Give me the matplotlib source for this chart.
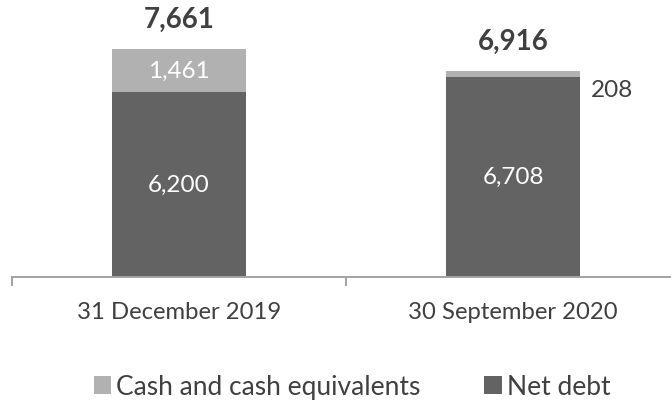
import matplotlib
matplotlib.use("Agg")
import matplotlib.pyplot as plt
from matplotlib.patches import Patch
import numpy as np

categories = ["31 December 2019", "30 September 2020"]
net_debt = [6200, 6708]
cash = [1461, 208]
series_names = ["Cash and cash equivalents", "Net debt"]

DARK = "#636363"
LIGHT = "#b1b1b1"
TEXT = "#404040"
AXIS = "#a3a3a3"

plt.rcParams["font.family"] = ["Lato", "DejaVu Sans"]

W, H = 671, 402
fig = plt.figure(figsize=(W / 100, H / 100), dpi=100)
ax = fig.add_axes([12 / W, 124.5 / H, 668 / W, 277.5 / H])

x = np.arange(len(categories))
bw = 0.4
ax.bar(x, net_debt, bw, color=DARK, zorder=2)
ax.bar(x, cash, bw, bottom=net_debt, color=LIGHT, zorder=2)

ax.set_xlim(-0.5, 1.5)
ax.set_ylim(0, 9330)

for s in ["top", "right", "left"]:
    ax.spines[s].set_visible(False)
ax.spines["bottom"].set_color(AXIS)
ax.spines["bottom"].set_linewidth(1.4)
ax.set_yticks([])

ax.set_xticks(x)
ax.set_xticklabels(categories, fontsize=17.2, color=TEXT)
ax.tick_params(axis="x", which="major", length=0, pad=18)
ax.set_xticks([-0.5, 0.5, 1.5], minor=True)
ax.tick_params(axis="x", which="minor", length=6.5, width=1.4, color=AXIS, direction="out")

# values inside the segments
for i in range(len(categories)):
    ax.text(x[i], net_debt[i] / 2, f"{net_debt[i]:,}", ha="center", va="center",
            fontsize=17.5, color="white", zorder=3)

ax.text(x[0], net_debt[0] + cash[0] / 2, f"{cash[0]:,}", ha="center", va="center",
        fontsize=17.5, color="white", zorder=3)
# thin segment labelled beside the bar
ax.annotate(f"{cash[1]:,}", xy=(x[1] + bw / 2, net_debt[1] + cash[1] / 2),
            xytext=(8, -11.5), textcoords="offset points", ha="left", va="center",
            fontsize=17.5, color=TEXT)

# totals above the bars
for i in range(len(categories)):
    total = net_debt[i] + cash[i]
    ax.annotate(f"{total:,}", xy=(x[i], total), xytext=(0, 21.5), textcoords="offset points",
                ha="center", va="center", fontsize=20, fontweight="bold", color=TEXT)

handles = [Patch(facecolor=LIGHT, label=series_names[0]),
           Patch(facecolor=DARK, label=series_names[1])]
fig.legend(handles=handles, loc="center", bbox_to_anchor=(352 / W, 14 / H),
           ncol=2, frameon=False, fontsize=19, labelcolor=TEXT,
           handlelength=0.68, handleheight=0.68, handletextpad=0.19, columnspacing=2.39,
           borderpad=0, borderaxespad=0)

fig.savefig("out.png", dpi=100)
